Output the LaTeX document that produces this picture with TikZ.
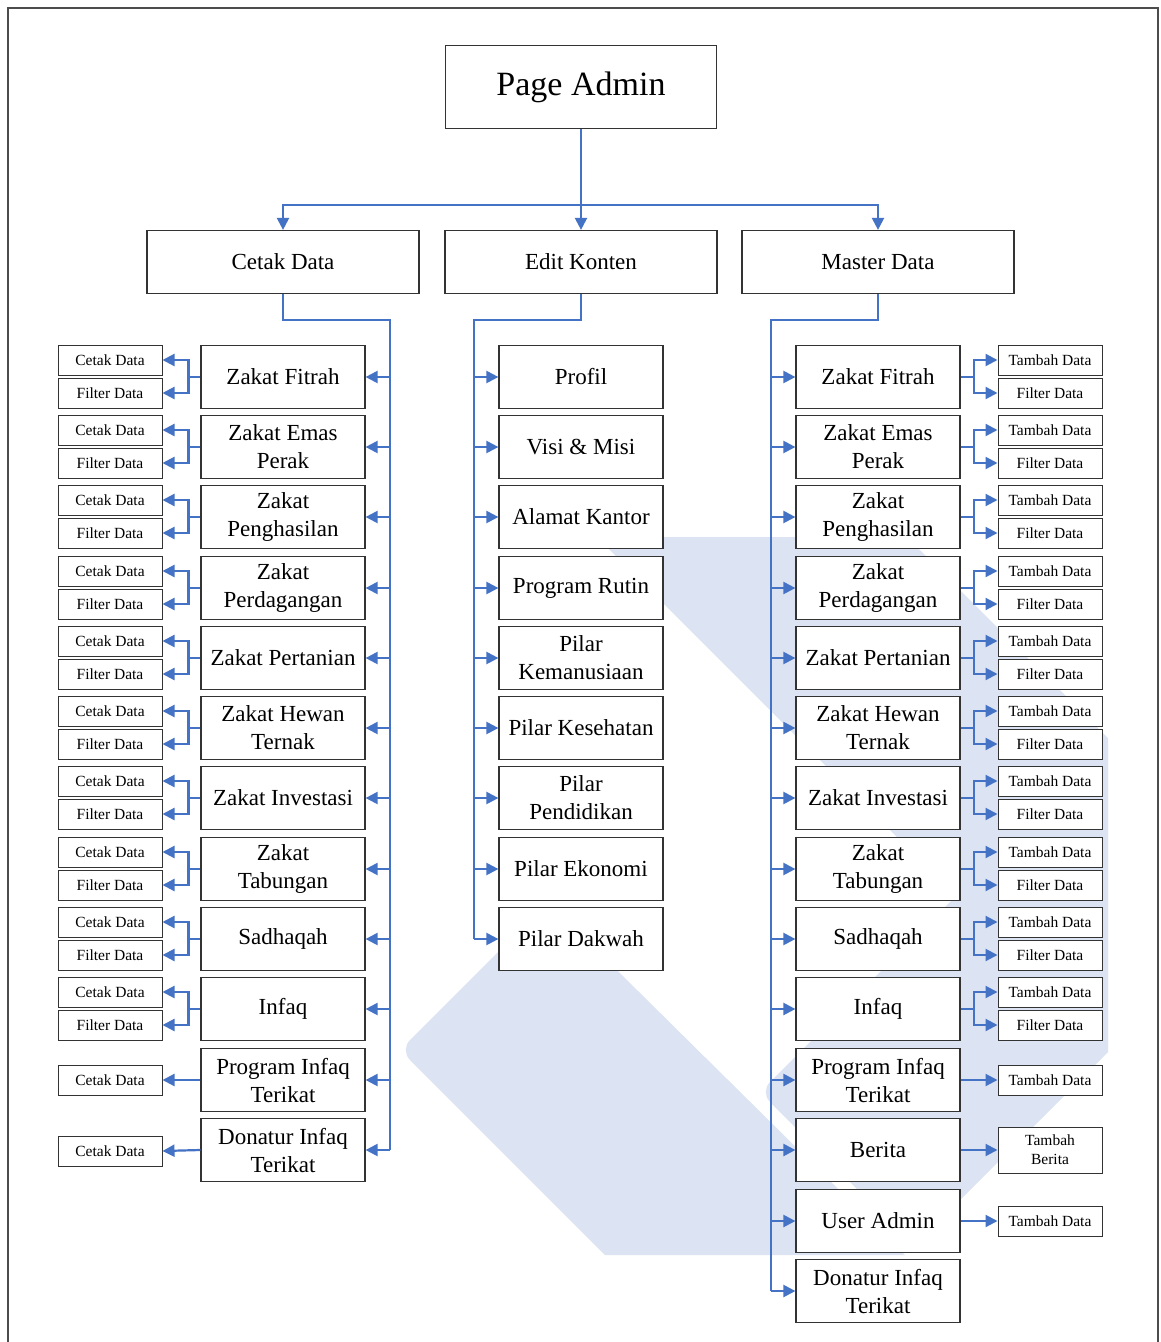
\documentclass[tikz,border=0pt]{standalone}
\usepackage{fontspec}
\setmainfont{Liberation Serif}
\usetikzlibrary{arrows.meta}
\definecolor{linkblue}{RGB}{68,114,196}
\definecolor{markblue}{RGB}{220,227,242}
\tikzset{
  menu/.style={draw=black!80,line width=1.2pt,fill=white,minimum width=164pt,minimum height=63pt,inner sep=0pt,align=center,font=\fontsize{23}{28}\selectfont},
  head/.style={menu,minimum width=272pt},
  topbox/.style={menu,minimum width=271pt,minimum height=83pt,font=\fontsize{34}{40}\selectfont},
  sub/.style={draw=black!80,line width=1pt,fill=white,minimum width=104pt,minimum height=30pt,inner sep=0pt,align=center,font=\fontsize{15.5}{19}\selectfont},
  link/.style={draw=linkblue,line width=2.2pt},
  arr/.style={link,-{Triangle[length=12pt,width=12pt]}}
}
\begin{document}
\begin{tikzpicture}[x=1pt,y=-1pt]
    \useasboundingbox (0,0) rectangle (1160,1342);
    % watermark
    \fill[markblue] (605,1255) [rounded corners=14pt] -- (400,1050) -- (548,902) [sharp corners] -- (905,1255) -- cycle;
    \fill[markblue] (914,1246) [rounded corners=14pt] -- (760,1092) [sharp corners] -- (1108,744) -- (1108,1052) -- cycle;
    \fill[markblue] (1108,1048) [rounded corners=14pt] -- (597,537) [sharp corners] -- (907,537) -- (1108,738) -- cycle;
    % frame
    \draw[black!70,line width=1.2pt] (8,1342) -- (8,8) -- (1158,8) -- (1158,1342);
    % top
    \node[topbox] (admin) at (581,87) {Page Admin};
    \node[head] (cetak) at (283,262) {Cetak Data};
    \node[head] (edit) at (581,262) {Edit Konten};
    \node[head] (master) at (878,262) {Master Data};
    \coordinate (split) at (581,205);
    \draw[arr] (admin.south) -- (edit.north);
    \draw[arr] (split) -| (cetak.north);
    \draw[arr] (split) -| (master.north);
    % cetak data
    \node[menu] (ca1) at (283,377) {Zakat Fitrah};
    \node[menu] (ca2) at (283,447) {Zakat Emas\\Perak};
    \node[menu] (ca3) at (283,517) {Zakat\\Penghasilan};
    \node[menu] (ca4) at (283,588) {Zakat\\Perdagangan};
    \node[menu] (ca5) at (283,658) {Zakat Pertanian};
    \node[menu] (ca6) at (283,728) {Zakat Hewan\\Ternak};
    \node[menu] (ca7) at (283,798) {Zakat Investasi};
    \node[menu] (ca8) at (283,869) {Zakat\\Tabungan};
    \node[menu] (ca9) at (283,939) {Sadhaqah};
    \node[menu] (ca10) at (283,1009) {Infaq};
    \node[menu] (ca11) at (283,1080) {Program Infaq\\Terikat};
    \node[menu] (ca12) at (283,1150) {Donatur Infaq\\Terikat};
    \node[sub] (ca1c) at (110,360) {Cetak Data};
    \node[sub] (ca1f) at (110,393) {Filter Data};
    \node[sub] (ca2c) at (110,430) {Cetak Data};
    \node[sub] (ca2f) at (110,463) {Filter Data};
    \node[sub] (ca3c) at (110,500) {Cetak Data};
    \node[sub] (ca3f) at (110,533) {Filter Data};
    \node[sub] (ca4c) at (110,571) {Cetak Data};
    \node[sub] (ca4f) at (110,604) {Filter Data};
    \node[sub] (ca5c) at (110,641) {Cetak Data};
    \node[sub] (ca5f) at (110,674) {Filter Data};
    \node[sub] (ca6c) at (110,711) {Cetak Data};
    \node[sub] (ca6f) at (110,744) {Filter Data};
    \node[sub] (ca7c) at (110,781) {Cetak Data};
    \node[sub] (ca7f) at (110,814) {Filter Data};
    \node[sub] (ca8c) at (110,852) {Cetak Data};
    \node[sub] (ca8f) at (110,885) {Filter Data};
    \node[sub] (ca9c) at (110,922) {Cetak Data};
    \node[sub] (ca9f) at (110,955) {Filter Data};
    \node[sub] (ca10c) at (110,992) {Cetak Data};
    \node[sub] (ca10f) at (110,1025) {Filter Data};
    \node[sub] (ca11c) at (110,1080) {Cetak Data};
    \node[sub] (ca12c) at (110,1151) {Cetak Data};
    \coordinate (cbus) at (390,320);
    \coordinate (cend) at (390,1150);
    \draw[link] (cetak.south) |- (cbus) -- (cend);
    \draw[arr] (cbus |- ca1) -- (ca1.east);
    \draw[arr] (cbus |- ca2) -- (ca2.east);
    \draw[arr] (cbus |- ca3) -- (ca3.east);
    \draw[arr] (cbus |- ca4) -- (ca4.east);
    \draw[arr] (cbus |- ca5) -- (ca5.east);
    \draw[arr] (cbus |- ca6) -- (ca6.east);
    \draw[arr] (cbus |- ca7) -- (ca7.east);
    \draw[arr] (cbus |- ca8) -- (ca8.east);
    \draw[arr] (cbus |- ca9) -- (ca9.east);
    \draw[arr] (cbus |- ca10) -- (ca10.east);
    \draw[arr] (cbus |- ca11) -- (ca11.east);
    \draw[arr] (cend) -- (ca12.east);
    \draw[arr] (ca1.west) -- ++(-12,0) |- (ca1c.east);
    \draw[arr] (ca1.west) -- ++(-12,0) |- (ca1f.east);
    \draw[arr] (ca2.west) -- ++(-12,0) |- (ca2c.east);
    \draw[arr] (ca2.west) -- ++(-12,0) |- (ca2f.east);
    \draw[arr] (ca3.west) -- ++(-12,0) |- (ca3c.east);
    \draw[arr] (ca3.west) -- ++(-12,0) |- (ca3f.east);
    \draw[arr] (ca4.west) -- ++(-12,0) |- (ca4c.east);
    \draw[arr] (ca4.west) -- ++(-12,0) |- (ca4f.east);
    \draw[arr] (ca5.west) -- ++(-12,0) |- (ca5c.east);
    \draw[arr] (ca5.west) -- ++(-12,0) |- (ca5f.east);
    \draw[arr] (ca6.west) -- ++(-12,0) |- (ca6c.east);
    \draw[arr] (ca6.west) -- ++(-12,0) |- (ca6f.east);
    \draw[arr] (ca7.west) -- ++(-12,0) |- (ca7c.east);
    \draw[arr] (ca7.west) -- ++(-12,0) |- (ca7f.east);
    \draw[arr] (ca8.west) -- ++(-12,0) |- (ca8c.east);
    \draw[arr] (ca8.west) -- ++(-12,0) |- (ca8f.east);
    \draw[arr] (ca9.west) -- ++(-12,0) |- (ca9c.east);
    \draw[arr] (ca9.west) -- ++(-12,0) |- (ca9f.east);
    \draw[arr] (ca10.west) -- ++(-12,0) |- (ca10c.east);
    \draw[arr] (ca10.west) -- ++(-12,0) |- (ca10f.east);
    \draw[arr] (ca11.west) -- (ca11c.east);
    \draw[arr] (ca12.west) -- (ca12c.east);
    % edit konten
    \node[menu] (ek1) at (581,377) {Profil};
    \node[menu] (ek2) at (581,447) {Visi \& Misi};
    \node[menu] (ek3) at (581,517) {Alamat Kantor};
    \node[menu] (ek4) at (581,588) {Program Rutin};
    \node[menu] (ek5) at (581,658) {Pilar\\Kemanusiaan};
    \node[menu] (ek6) at (581,728) {Pilar Kesehatan};
    \node[menu] (ek7) at (581,798) {Pilar\\Pendidikan};
    \node[menu] (ek8) at (581,869) {Pilar Ekonomi};
    \node[menu] (ek9) at (581,939) {Pilar Dakwah};
    \coordinate (ebus) at (474,320);
    \coordinate (eend) at (474,939);
    \draw[link] (edit.south) |- (ebus) -- (eend);
    \draw[arr] (ebus |- ek1) -- (ek1.west);
    \draw[arr] (ebus |- ek2) -- (ek2.west);
    \draw[arr] (ebus |- ek3) -- (ek3.west);
    \draw[arr] (ebus |- ek4) -- (ek4.west);
    \draw[arr] (ebus |- ek5) -- (ek5.west);
    \draw[arr] (ebus |- ek6) -- (ek6.west);
    \draw[arr] (ebus |- ek7) -- (ek7.west);
    \draw[arr] (ebus |- ek8) -- (ek8.west);
    \draw[arr] (eend) -- (ek9.west);
    % master data
    \node[menu] (md1) at (878,377) {Zakat Fitrah};
    \node[menu] (md2) at (878,447) {Zakat Emas\\Perak};
    \node[menu] (md3) at (878,517) {Zakat\\Penghasilan};
    \node[menu] (md4) at (878,588) {Zakat\\Perdagangan};
    \node[menu] (md5) at (878,658) {Zakat Pertanian};
    \node[menu] (md6) at (878,728) {Zakat Hewan\\Ternak};
    \node[menu] (md7) at (878,798) {Zakat Investasi};
    \node[menu] (md8) at (878,869) {Zakat\\Tabungan};
    \node[menu] (md9) at (878,939) {Sadhaqah};
    \node[menu] (md10) at (878,1009) {Infaq};
    \node[menu] (md11) at (878,1080) {Program Infaq\\Terikat};
    \node[menu] (md12) at (878,1150) {Berita};
    \node[menu] (md13) at (878,1221) {User Admin};
    \node[menu] (md14) at (878,1291) {Donatur Infaq\\Terikat};
    \node[sub] (md1t) at (1050,360) {Tambah Data};
    \node[sub] (md1f) at (1050,393) {Filter Data};
    \node[sub] (md2t) at (1050,430) {Tambah Data};
    \node[sub] (md2f) at (1050,463) {Filter Data};
    \node[sub] (md3t) at (1050,500) {Tambah Data};
    \node[sub] (md3f) at (1050,533) {Filter Data};
    \node[sub] (md4t) at (1050,571) {Tambah Data};
    \node[sub] (md4f) at (1050,604) {Filter Data};
    \node[sub] (md5t) at (1050,641) {Tambah Data};
    \node[sub] (md5f) at (1050,674) {Filter Data};
    \node[sub] (md6t) at (1050,711) {Tambah Data};
    \node[sub] (md6f) at (1050,744) {Filter Data};
    \node[sub] (md7t) at (1050,781) {Tambah Data};
    \node[sub] (md7f) at (1050,814) {Filter Data};
    \node[sub] (md8t) at (1050,852) {Tambah Data};
    \node[sub] (md8f) at (1050,885) {Filter Data};
    \node[sub] (md9t) at (1050,922) {Tambah Data};
    \node[sub] (md9f) at (1050,955) {Filter Data};
    \node[sub] (md10t) at (1050,992) {Tambah Data};
    \node[sub] (md10f) at (1050,1025) {Filter Data};
    \node[sub] (md11t) at (1050,1080) {Tambah Data};
    \node[sub,minimum height=46pt] (md12t) at (1050,1150) {Tambah\\Berita};
    \node[sub] (md13t) at (1050,1221) {Tambah Data};
    \coordinate (mbus) at (771,320);
    \coordinate (mend) at (771,1291);
    \draw[link] (master.south) |- (mbus) -- (mend);
    \draw[arr] (mbus |- md1) -- (md1.west);
    \draw[arr] (mbus |- md2) -- (md2.west);
    \draw[arr] (mbus |- md3) -- (md3.west);
    \draw[arr] (mbus |- md4) -- (md4.west);
    \draw[arr] (mbus |- md5) -- (md5.west);
    \draw[arr] (mbus |- md6) -- (md6.west);
    \draw[arr] (mbus |- md7) -- (md7.west);
    \draw[arr] (mbus |- md8) -- (md8.west);
    \draw[arr] (mbus |- md9) -- (md9.west);
    \draw[arr] (mbus |- md10) -- (md10.west);
    \draw[arr] (mbus |- md11) -- (md11.west);
    \draw[arr] (mbus |- md12) -- (md12.west);
    \draw[arr] (mbus |- md13) -- (md13.west);
    \draw[arr] (mend) -- (md14.west);
    \draw[arr] (md1.east) -- ++(13,0) |- (md1t.west);
    \draw[arr] (md1.east) -- ++(13,0) |- (md1f.west);
    \draw[arr] (md2.east) -- ++(13,0) |- (md2t.west);
    \draw[arr] (md2.east) -- ++(13,0) |- (md2f.west);
    \draw[arr] (md3.east) -- ++(13,0) |- (md3t.west);
    \draw[arr] (md3.east) -- ++(13,0) |- (md3f.west);
    \draw[arr] (md4.east) -- ++(13,0) |- (md4t.west);
    \draw[arr] (md4.east) -- ++(13,0) |- (md4f.west);
    \draw[arr] (md5.east) -- ++(13,0) |- (md5t.west);
    \draw[arr] (md5.east) -- ++(13,0) |- (md5f.west);
    \draw[arr] (md6.east) -- ++(13,0) |- (md6t.west);
    \draw[arr] (md6.east) -- ++(13,0) |- (md6f.west);
    \draw[arr] (md7.east) -- ++(13,0) |- (md7t.west);
    \draw[arr] (md7.east) -- ++(13,0) |- (md7f.west);
    \draw[arr] (md8.east) -- ++(13,0) |- (md8t.west);
    \draw[arr] (md8.east) -- ++(13,0) |- (md8f.west);
    \draw[arr] (md9.east) -- ++(13,0) |- (md9t.west);
    \draw[arr] (md9.east) -- ++(13,0) |- (md9f.west);
    \draw[arr] (md10.east) -- ++(13,0) |- (md10t.west);
    \draw[arr] (md10.east) -- ++(13,0) |- (md10f.west);
    \draw[arr] (md11.east) -- (md11t.west);
    \draw[arr] (md12.east) -- (md12t.west);
    \draw[arr] (md13.east) -- (md13t.west);
\end{tikzpicture}
\end{document}
